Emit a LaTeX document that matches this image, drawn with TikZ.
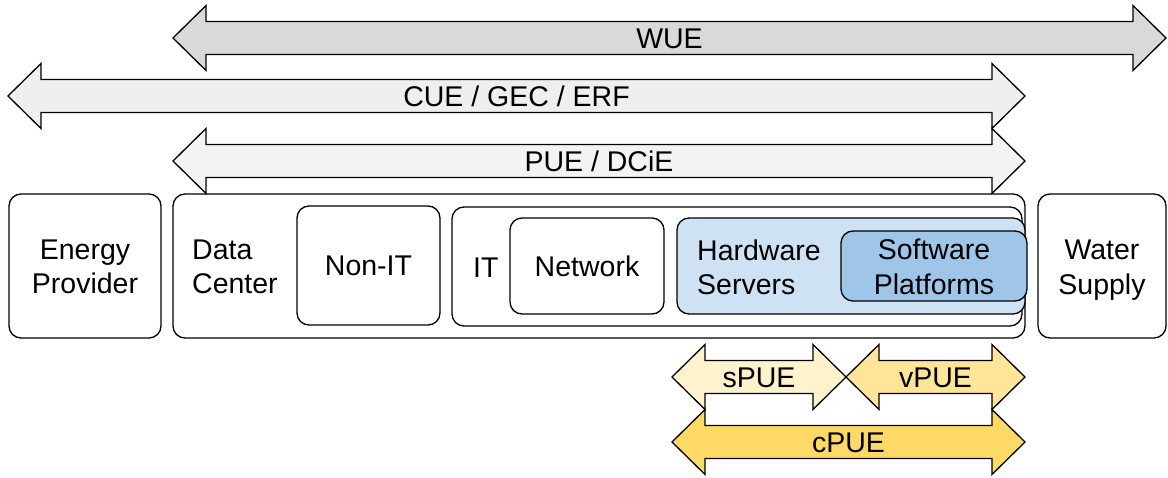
\documentclass[tikz,border=0pt]{standalone}
\usepackage{fontspec}
\setmainfont{Liberation Sans}
\definecolor{wue}{HTML}{D9D9D9}
\definecolor{cue}{HTML}{EFEFEF}
\definecolor{pue}{HTML}{F3F3F3}
\definecolor{spue}{HTML}{FFF2CC}
\definecolor{vpue}{HTML}{FFE599}
\definecolor{cpue}{HTML}{FFD966}
\definecolor{hw}{HTML}{CFE2F3}
\definecolor{sw}{HTML}{9FC5E8}
\newcommand\bigfont{\fontsize{28.5}{34.5}\selectfont}
\tikzset{
  arr/.style={draw=black, line width=1.3pt, line join=miter},
  lbl/.style={font=\bigfont, inner sep=0pt},
  box/.style={draw=black, line width=1.3pt, rounded corners=12pt, align=center, inner sep=0pt, font=\bigfont},
  boxlbl/.style={font=\bigfont, inner sep=0pt, align=left, anchor=west},
}
\newcommand\dbarrow[6]{%
  \filldraw[arr, fill=#5] (#2,#4) -- ({#2+33},{#4-32.5}) -- ({#2+33},{#4-16.5}) -- ({#3-33},{#4-16.5}) -- ({#3-33},{#4-32.5}) -- (#3,#4) -- ({#3-33},{#4+32.5}) -- ({#3-33},{#4+16.5}) -- ({#2+33},{#4+16.5}) -- ({#2+33},{#4+32.5}) -- cycle;
  \node[lbl, anchor=base] (#1) at ({(#2+#3)/2},{#4+10.5}) {#6};}
\begin{document}
\begin{tikzpicture}[x=1pt, y=-1pt]
\useasboundingbox[fill=white] (0,0) rectangle (1168,478);
% metric arrows
\dbarrow{wue}{173}{1166}{38}{wue}{WUE}
\dbarrow{cue}{8}{1025}{96}{cue}{CUE / GEC / ERF}
\dbarrow{pue}{173}{1025}{161}{pue}{PUE / DCiE}
% boxes
\node[box, minimum width=152pt, minimum height=144pt] (energy) at (85,266) {};
\node[lbl, align=center] (energylbl) at (85,267) {Energy\\Provider};
\node[box, minimum width=852pt, minimum height=144pt] (dc) at (599,266) {};
\node[boxlbl] (dclbl) at (192,267) {Data\\Center};
\node[box, minimum width=143pt, minimum height=119pt] (nonit) at (368.5,265.5) {Non-IT};
\node[box, minimum width=570pt, minimum height=119pt] (it) at (737,266.5) {};
\node[boxlbl] (itlbl) at (473,268) {IT};
\node[box, minimum width=154pt, minimum height=96pt] (network) at (587,266) {Network};
\node[box, fill=hw, minimum width=348pt, minimum height=96pt] (hwbox) at (851,266) {};
\node[boxlbl] (hwlbl) at (697,267.5) {Hardware\\Servers};
\node[box, fill=sw, minimum width=186pt, minimum height=70pt] (swbox) at (934,266) {};
\node[lbl, align=center] (swlbl) at (934,267) {Software\\Platforms};
\node[box, minimum width=128pt, minimum height=144pt] (water) at (1102,266) {};
\node[lbl, align=center] (waterlbl) at (1102,270) {Water\\Supply};
% sub-metric arrows
\dbarrow{cpue}{672}{1025}{442}{cpue}{cPUE}
\dbarrow{spue}{672}{846}{377}{spue}{sPUE}
\dbarrow{vpue}{846}{1025}{377}{vpue}{vPUE}
\end{tikzpicture}
\end{document}
